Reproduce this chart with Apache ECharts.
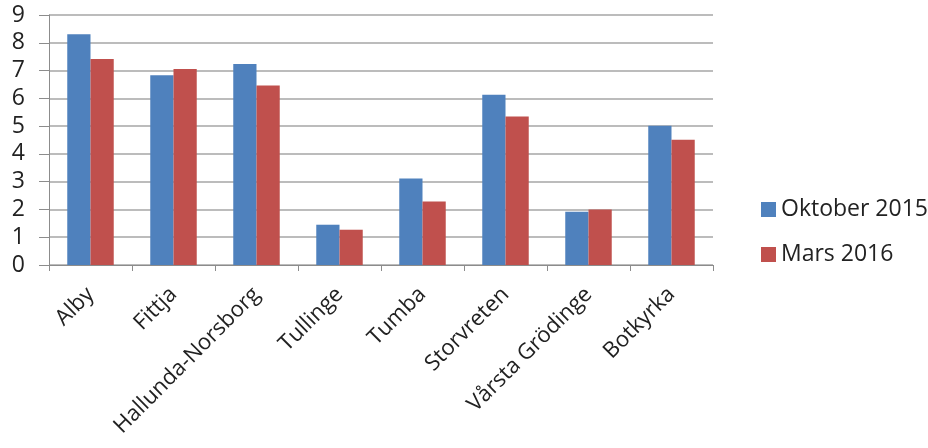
<!DOCTYPE html>
<html><head><meta charset="utf-8">
<script src="https://cdn.jsdelivr.net/npm/echarts@6/dist/echarts.min.js"></script>
<style>html,body{margin:0;padding:0;background:#fff}#c{width:928px;height:448px}</style>
</head><body><div id="c"></div>
<script>
const categories = ["Alby","Fittja","Hallunda-Norsborg","Tullinge","Tumba","Storvreten","Vårsta Grödinge","Botkyrka"];
const oktober2015 = [8.31, 6.83, 7.24, 1.45, 3.11, 6.13, 1.92, 5.01];
const mars2016 = [7.42, 7.06, 6.46, 1.27, 2.29, 5.35, 2.00, 4.51];
const yTicks = [0,1,2,3,4,5,6,7,8,9];
const font = "'Open Sans', 'Liberation Sans', sans-serif";
const chart = echarts.init(document.getElementById('c'), null, {renderer:'canvas'});
chart.setOption({
  animation:false,
  color:['#4F81BD','#C0504D'],
  grid:{left:49, right:215, top:15, bottom:183, containLabel:false},
  legend:{orient:'vertical', left:756, top:193, itemWidth:15, itemHeight:15, itemGap:22,
    icon:'rect', textStyle:{fontFamily:font, fontSize:23, color:'#222'},
    data:['Oktober 2015','Mars 2016']},
  xAxis:{type:'category', data:categories,
    axisLine:{lineStyle:{color:'#8c8c8c', width:1}},
    axisTick:{show:true, length:6, lineStyle:{color:'#8c8c8c'}},
    axisLabel:{rotate:45, fontFamily:font, fontSize:22, color:'#222', margin:26, interval:0}},
  yAxis:{type:'value', min:yTicks[0], max:yTicks[yTicks.length-1], interval:1,
    axisLine:{show:true, lineStyle:{color:'#8c8c8c'}},
    axisTick:{show:true, length:10, lineStyle:{color:'#8c8c8c'}},
    splitLine:{lineStyle:{color:'#a6a6a6', width:1.5}},
    axisLabel:{fontFamily:font, fontSize:23, color:'#222', margin:24}},
  series:[
    {name:'Oktober 2015', type:'bar', data:oktober2015, barWidth:'28%', barGap:'0%'},
    {name:'Mars 2016', type:'bar', data:mars2016, barWidth:'28%', barGap:'0%'}
  ]
});
</script></body></html>
